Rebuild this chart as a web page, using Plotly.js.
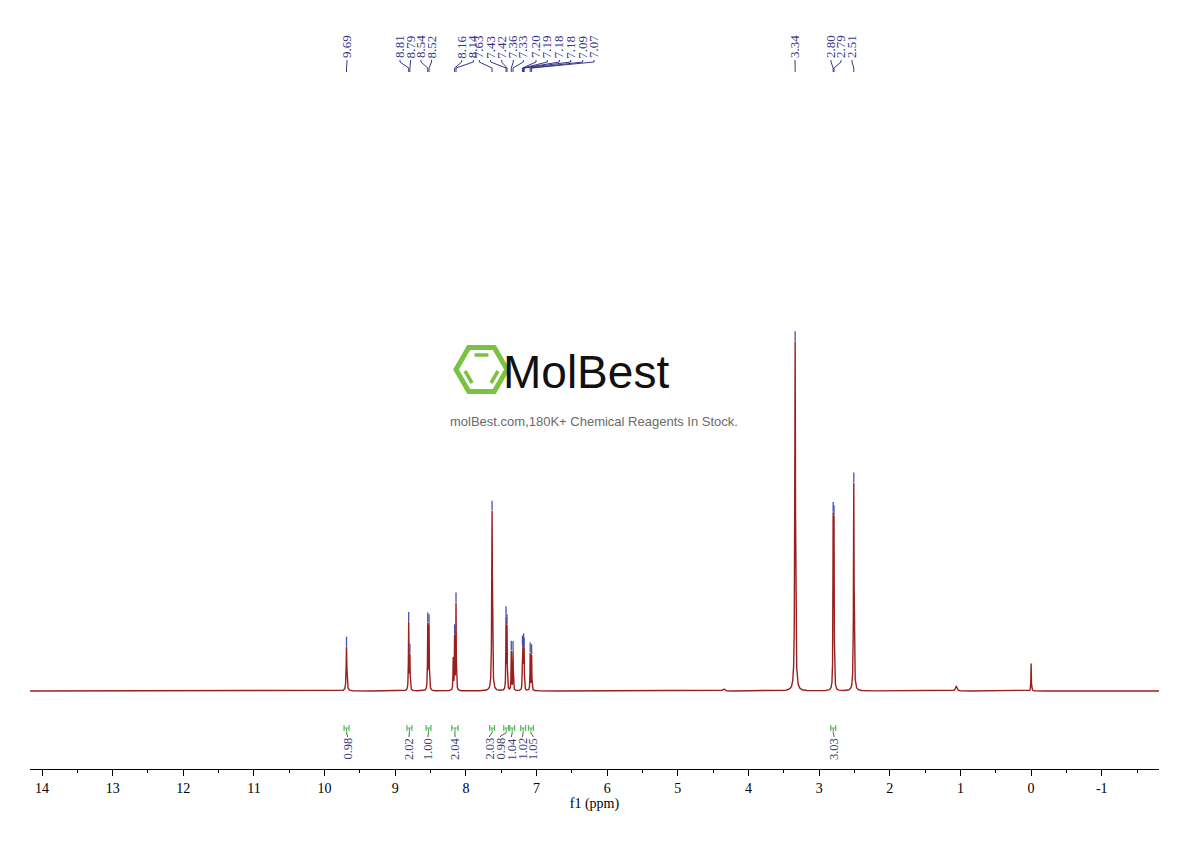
<!DOCTYPE html>
<html><head><meta charset="utf-8">
<script src="https://cdn.plot.ly/plotly-3.0.1.min.js"></script>
<style>html,body{margin:0;padding:0;background:#fff;}#chart{width:1190px;height:841px;}</style>
</head><body><div id="chart"></div>
<script>
// ---------- DATA ----------
// peaks: chemical shift (ppm), relative height (3.34 ppm = 100), line width (FWHM, ppm)
const peakPpm    = [9.690, 8.810, 8.793, 8.540, 8.522, 8.180, 8.160, 8.140, 7.630, 7.432, 7.418, 7.358, 7.333, 7.200, 7.192, 7.183, 7.176, 7.090, 7.070, 4.350, 3.340, 2.802, 2.790, 2.510, 1.060, 0.000];
const peakHeight = [12.5, 19.0, 9.5, 18.5, 18.0, 9.0, 15.0, 24.5, 51.0, 20.0, 17.5, 11.0, 11.0, 11.0, 10.0, 10.5, 10.0, 10.5, 10.0, 0.6, 99.0, 47.0, 46.0, 59.0, 1.4, 7.8];
const peakFwhm   = [0.012, 0.008, 0.008, 0.008, 0.008, 0.007, 0.007, 0.007, 0.011, 0.007, 0.007, 0.007, 0.007, 0.006, 0.006, 0.006, 0.006, 0.007, 0.007, 0.030, 0.012, 0.007, 0.007, 0.010, 0.025, 0.007];

// labelled peak picks
const pickPpm = [9.690, 8.810, 8.793, 8.540, 8.522, 8.160, 8.140, 7.630, 7.432, 7.418, 7.358, 7.333, 7.200, 7.192, 7.183, 7.176, 7.090, 7.070, 3.340, 2.802, 2.790, 2.510];
const pickText = ['9.69','8.81','8.79','8.54','8.52','8.16','8.14','7.63','7.43','7.42','7.36','7.33','7.20','7.19','7.18','7.18','7.09','7.07','3.34','2.80','2.79','2.51'];

// integrals
const intFrom  = [9.725, 8.835, 8.565, 8.200, 7.665, 7.465, 7.380, 7.225, 7.115, 2.835];
const intTo    = [9.655, 8.765, 8.495, 8.110, 7.595, 7.395, 7.310, 7.155, 7.045, 2.765];
const intValue = ['0.98','2.02','1.00','2.04','2.03','0.98','1.04','1.02','1.05','3.03'];

// axis ticks
const tickValues = [14, 13, 12, 11, 10, 9, 8, 7, 6, 5, 4, 3, 2, 1, 0, -1];
const tickLabels = ['14','13','12','11','10','9','8','7','6','5','4','3','2','1','0','-1'];

// ---------- LAYOUT HELPERS ----------
const PL = 30, PR = 1159, PT = 20, PB = 769;
const X0 = 14.17, X1 = -1.81;
const Y0 = -22.1, Y1 = 190.1;
const py = p => (PB - p) / (PB - PT);          // pixel row -> paper y
const pxp = p => (p - PL) / (PR - PL);         // pixel column -> paper x
const pxppm = p => X0 + (p - PL) / (PR - PL) * (X1 - X0); // pixel column -> ppm

// display positions of the peak labels (spread like the reference), pixel columns
const pickLabelCol = [347, 400, 410.5, 421, 431.5, 461.7, 473.3, 479.3, 490.7, 501.7, 513.3, 523.3, 536, 547.3, 559.3, 570.7, 582.7, 594, 795, 831, 841, 852];
const intLabelCol  = [347.5, 409, 428, 455, 489.5, 500.5, 511.5, 522.5, 533, 834];

// ---------- SPECTRUM ----------
function spec(x) {
  let s = 0;
  for (let i = 0; i < peakPpm.length; i++) {
    const d = (x - peakPpm[i]) / (peakFwhm[i] / 2);
    s += peakHeight[i] / (1 + d * d);
  }
  return s;
}
const xs = [], ys = [];
const N = Math.round((X0 - X1) / 0.001);
for (let k = 0; k <= N; k++) {
  const x = X0 - k * 0.001;
  xs.push(x); ys.push(spec(x));
}

const LABEL_COLOR = '#36368c';
const TICK_BLUE = '#4650b0';
const INT_GREEN = '#5cb85c';
const serif = 'Liberation Serif, DejaVu Serif, serif';

const traces = [
  { x: xs, y: ys, type: 'scatter', mode: 'lines', line: { color: '#9a1f1f', width: 1.4 }, hoverinfo: 'skip', showlegend: false },
  { x: pickPpm, y: pickPpm.map(p => spec(p) + 1.5), type: 'scatter', mode: 'markers',
    marker: { symbol: 'line-ns-open', size: 7, color: TICK_BLUE, line: { color: TICK_BLUE, width: 1.3 } }, hoverinfo: 'skip', showlegend: false }
];

const shapes = [];
const annotations = [];

// peak labels + leader lines
pickPpm.forEach((p, i) => {
  const lx = pxppm(pickLabelCol[i]);
  annotations.push({ x: lx, xref: 'x', y: py(47), yref: 'paper', text: pickText[i], textangle: -90,
    showarrow: false, xanchor: 'center', yanchor: 'middle', font: { family: serif, size: 13, color: LABEL_COLOR } });
  shapes.push({ type: 'path', xref: 'x', yref: 'paper',
    path: `M ${lx},${py(60)} L ${lx},${py(62)} L ${p},${py(68)} L ${p},${py(72)}`,
    line: { color: LABEL_COLOR, width: 1 } });
});

// integrals
intFrom.forEach((a, i) => {
  const b = intTo[i], c = (a + b) / 2;
  const lx = pxppm(intLabelCol[i]);
  shapes.push({ type: 'path', xref: 'x', yref: 'paper',
    path: `M ${a},${py(725)} L ${a},${py(731)} M ${a},${py(728)} L ${b},${py(728)} M ${b},${py(725)} L ${b},${py(731)} M ${c},${py(728)} L ${c},${py(733)}`,
    line: { color: INT_GREEN, width: 1.2 } });
  shapes.push({ type: 'path', xref: 'x', yref: 'paper',
    path: `M ${c},${py(733)} L ${lx},${py(736)} L ${lx},${py(737)}`,
    line: { color: '#555577', width: 1 } });
  annotations.push({ x: lx, xref: 'x', y: py(749), yref: 'paper', text: intValue[i], textangle: -90,
    showarrow: false, xanchor: 'center', yanchor: 'middle', font: { family: serif, size: 12.5, color: '#3d3d7a' } });
});

// watermark logo
const cx = 481.5, cy = 369.5, R = 25.5;
const hv = [0, 60, 120, 180, 240, 300].map(a => [cx + R * Math.cos(a * Math.PI / 180), cy - R * Math.sin(a * Math.PI / 180)]);
shapes.push({ type: 'path', xref: 'paper', yref: 'paper',
  path: 'M ' + hv.map(v => `${pxp(v[0])},${py(v[1])}`).join(' L ') + ' Z',
  line: { color: '#7cc242', width: 5 } });
[[474.5, 355, 488.5, 355], [465, 371, 472, 383], [498, 371, 491, 383]].forEach(s => {
  shapes.push({ type: 'line', xref: 'paper', yref: 'paper', x0: pxp(s[0]), y0: py(s[1]), x1: pxp(s[2]), y1: py(s[3]),
    line: { color: '#7cc242', width: 3.5 } });
});
annotations.push({ x: pxp(586), xref: 'paper', y: py(372), yref: 'paper', text: 'MolBest', showarrow: false,
  xanchor: 'center', yanchor: 'middle', font: { family: 'Liberation Sans, Arial, sans-serif', size: 46, color: '#111' } });
annotations.push({ x: pxp(594), xref: 'paper', y: py(421), yref: 'paper', text: 'molBest.com,180K+ Chemical Reagents In Stock.', showarrow: false,
  xanchor: 'center', yanchor: 'middle', font: { family: 'Liberation Sans, Arial, sans-serif', size: 13, color: '#6a6a6a' } });

const layout = {
  width: 1190, height: 841,
  margin: { l: PL, r: 1190 - PR, t: PT, b: 841 - PB },
  paper_bgcolor: '#fff', plot_bgcolor: '#fff',
  showlegend: false,
  xaxis: {
    range: [X0, X1], showgrid: false, zeroline: false,
    showline: true, linecolor: '#000', linewidth: 1,
    ticks: 'outside', ticklen: 6, tickcolor: '#000', tickwidth: 1,
    tickvals: tickValues, ticktext: tickLabels,
    minor: { dtick: 0.5, ticks: 'outside', ticklen: 3, tickcolor: '#000', showgrid: false },
    tickfont: { family: serif, size: 14, color: '#000' },
    title: { text: 'f1 (ppm)', font: { family: serif, size: 14, color: '#000' }, standoff: 0 }
  },
  yaxis: { range: [Y0, Y1], visible: false, showgrid: false, zeroline: false },
  shapes: shapes,
  annotations: annotations
};

Plotly.newPlot('chart', traces, layout, { staticPlot: true, displayModeBar: false });
</script></body></html>
